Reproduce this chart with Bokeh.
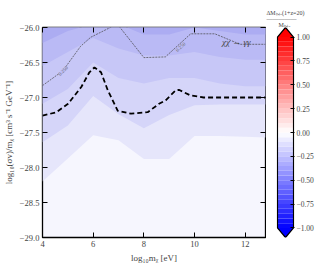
import numpy as np
from bokeh.plotting import figure
from bokeh.layouts import row
from bokeh.models import FixedTicker, LinearAxis, Range1d, Title
from bokeh.core.properties import value
from bokeh.embed import file_html
from bokeh.resources import INLINE

# ---- data ----
mass = [4, 5, 6, 7, 8, 9, 10, 11, 12, 12.8]
# filled-contour boundaries (top = darkest)
lvl1 = [-26.22, -26.05, -25.95, -25.95, -26.10, -26.10, -26.00, -26.05, -26.10, -26.10]
lvl2 = [-26.55, -26.35, -26.15, -26.30, -26.40, -26.40, -26.35, -26.42, -26.46, -26.46]
lvl3 = [-27.09, -26.88, -26.50, -26.72, -26.80, -26.72, -26.72, -26.80, -26.84, -26.84]
lvl4 = [-27.64, -27.40, -26.98, -27.24, -27.44, -27.25, -27.11, -27.10, -27.10, -27.10]
lvl5 = [-28.20, -27.87, -27.54, -27.61, -27.88, -27.88, -27.55, -27.55, -27.56, -27.57]
band_colors = ["#acacf2", "#babaf5", "#c7c7f7", "#d5d5f9", "#e6e6fb", "#f6f6fe"]

dash_x = [4.0, 4.55, 5.01, 5.53, 5.85, 6.05, 6.31, 6.58, 6.97, 7.49, 8.15, 8.6, 8.86, 9.25, 9.38, 9.84, 10.36, 12.8]
dash_y = [-27.26, -27.21, -27.09, -26.85, -26.64, -26.57, -26.64, -26.90, -27.19, -27.23, -27.21, -27.09, -27.04, -26.90, -26.89, -26.97, -27.00, -27.00]

dot_x = [4.0, 4.8, 5.5, 5.9, 6.95, 8.0, 8.85, 9.85, 10.8, 11.8, 12.8]
dot_y = [-26.83, -26.62, -26.27, -26.14, -25.95, -26.43, -26.42, -26.09, -26.09, -26.24, -26.24]

contour_label = "0.250"
clabel_x = [4.82, 9.45]
clabel_y = [-26.62, -26.28]
process_label = "χχ → γγ"

x_ticks = [4, 6, 8, 10, 12]
y_ticks = [-29.0, -28.5, -28.0, -27.5, -27.0, -26.5, -26.0]
cb_ticks = [-1.0, -0.75, -0.5, -0.25, 0.0, 0.25, 0.5, 0.75, 1.0]
cb_step = 0.05
cb_title_num = "ΔMₕₐₗₒ(1+z=20)"
cb_title_den = "Mₕₐₗₒ"

FONT = "Liberation Serif"
MINUS = "\u2212"


def fmt(v, nd):
    s = f"{abs(v):.{nd}f}"
    return (MINUS + s) if v < 0 else s


def bwr(v):
    if v < 0:
        c = int(round(255 * (1 + v)))
        return "#%02x%02x%02x" % (c, c, 255)
    c = int(round(255 * (1 - v)))
    return "#%02x%02x%02x" % (255, c, c)


H = 266
# ---- main figure ----
XMIN, XMAX, YMIN, YMAX = 4, 12.8, -29.0, -26.0
p = figure(width=266, height=H, x_range=Range1d(XMIN, XMAX), y_range=Range1d(YMIN, YMAX),
           output_backend="svg", toolbar_location=None,
           min_border_left=41, min_border_right=1, min_border_top=25, min_border_bottom=29)
p.grid.visible = False
p.background_fill_color = band_colors[-1]
p.outline_line_color = "black"
p.outline_line_width = 1.3

for bnd, col in zip([lvl5, lvl4, lvl3, lvl2, lvl1], band_colors[::-1][1:]):
    p.varea(x=mass, y1=bnd, y2=[YMAX] * len(mass), fill_color=col)

p.line(dot_x, dot_y, line_color="#444444", line_width=0.7, line_dash="2 1")
p.line(dash_x, dash_y, line_color="black", line_width=1.8, line_dash="5 3")

p.text(x=clabel_x, y=clabel_y, text=[contour_label] * 2, angle=[0.78, 0.75],
       text_font=value(FONT), text_font_size="5px", text_color="#666666",
       text_align="center", text_baseline="middle",
       background_fill_color="#bdbdf5")
p.text(x=[11.65], y=[-26.2], text=[process_label], text_font=value(FONT),
       text_font_style="italic", text_font_size="9px", text_color="#444444",
       text_align="center", text_baseline="middle")

for ax, ticks, nd in [(p.xaxis[0], x_ticks, 0), (p.yaxis[0], y_ticks, 1)]:
    ax.ticker = FixedTicker(ticks=ticks)
    ax.major_label_overrides = {t: fmt(t, nd) for t in ticks}
    ax.major_tick_in = 5
    ax.major_tick_out = 0
    ax.minor_tick_line_color = None
    ax.axis_line_color = None
    ax.major_label_text_font = FONT
    ax.major_label_text_font_size = "8.5px"
    ax.axis_label_text_font = FONT
    ax.axis_label_text_font_size = "9px"
    ax.axis_label_text_font_style = "normal"
    ax.major_label_standoff = 3
    ax.axis_label_standoff = 3

p.xaxis[0].axis_label = "log₁₀mᵪ [eV]"
p.yaxis[0].axis_label = "log₁₀(σv)/mᵪ [cm³ s⁻¹ GeV⁻¹]"

for loc, ticks in [("above", x_ticks), ("right", y_ticks)]:
    a = LinearAxis(ticker=FixedTicker(ticks=ticks), major_tick_in=5, major_tick_out=0,
                   minor_tick_line_color=None, axis_line_color=None,
                   major_label_overrides={t: "" for t in ticks},
                   major_label_text_font_size="1px", major_label_standoff=0)
    p.add_layout(a, loc)

# ---- colorbar figure ----
CB_LO, CB_HI, ARROW = -1.0, 1.0, 0.1
p2 = figure(width=51, height=H, x_range=Range1d(-0.06, 1.06),
            y_range=Range1d(CB_LO - ARROW, CB_HI + ARROW),
            output_backend="svg", toolbar_location=None,
            x_axis_location=None, y_axis_location=None,
            min_border_left=10, min_border_right=23, min_border_top=27, min_border_bottom=28)
p2.grid.visible = False
p2.outline_line_color = None

levels = np.round(np.arange(CB_LO, CB_HI + cb_step / 2, cb_step), 4)
mids = (levels[:-1] + levels[1:]) / 2
p2.quad(left=0, right=1, bottom=levels[:-1], top=levels[1:],
        fill_color=[bwr(m) for m in mids], line_color=None)
p2.patch([0, 0.5, 1], [CB_HI, CB_HI + ARROW, CB_HI], fill_color=bwr(CB_HI), line_color=None)
p2.patch([0, 0.5, 1], [CB_LO, CB_LO - ARROW, CB_LO], fill_color=bwr(CB_LO), line_color=None)
p2.patch([0, 0, 0.5, 1, 1, 0.5], [CB_LO, CB_HI, CB_HI + ARROW, CB_HI, CB_LO, CB_LO - ARROW],
         fill_color=None, line_color="black", line_width=1.2)

cax = LinearAxis(ticker=FixedTicker(ticks=cb_ticks), major_tick_in=4, major_tick_out=0,
                 minor_tick_line_color=None, axis_line_color=None,
                 major_label_overrides={t: fmt(t, 2) for t in cb_ticks},
                 major_label_text_font=FONT, major_label_text_font_size="7.5px",
                 major_label_standoff=2)
p2.add_layout(cax, "right")

# fraction title above the colorbar, as one multi-line title
pad = "\u2007" * 4
p2.add_layout(Title(text=cb_title_num + "\n" + "―――――" + "\n" + pad + cb_title_den,
                    align="center", offset=3, standoff=0,
                    text_font=FONT, text_font_size="6px", text_font_style="normal",
                    text_line_height=1.0), "above")

layout = row(p, p2)
open("out.html", "w").write(file_html(layout, INLINE))
